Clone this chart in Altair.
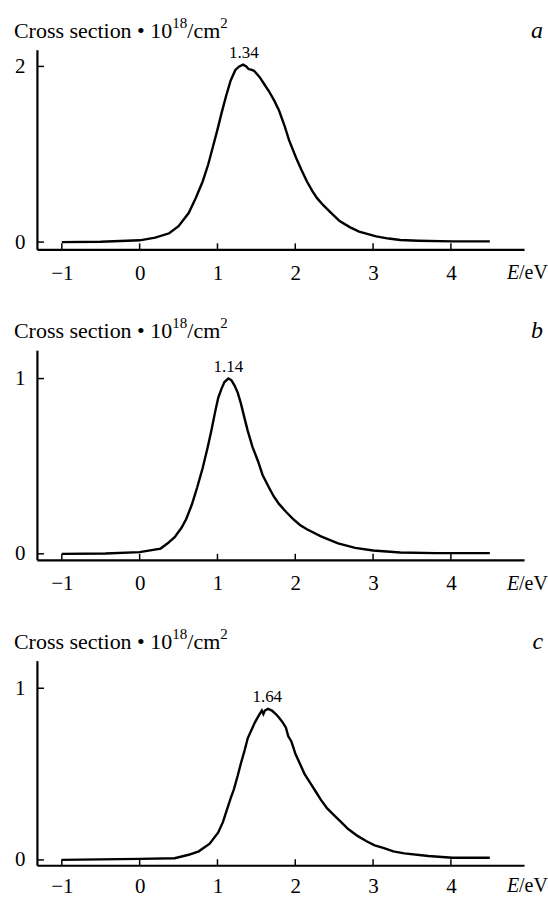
import altair as alt
import pandas as pd

FONT = "Liberation Serif"

# ---------------- data ----------------
X_TICKS = [-1, 0, 1, 2, 3, 4]

E_A = [-1.0, -0.5, 0.0, 0.2, 0.38, 0.5, 0.63, 0.72, 0.81, 0.88, 0.94, 1.0, 1.05, 1.11, 1.17,
       1.23, 1.28, 1.33, 1.37, 1.40, 1.44, 1.47, 1.54, 1.60, 1.66, 1.73, 1.79, 1.86, 1.92,
       2.01, 2.08, 2.15, 2.22, 2.28, 2.36, 2.44, 2.57, 2.70, 2.82, 3.04, 3.20, 3.35, 3.58,
       4.02, 4.5]
S_A = [0.0, 0.003, 0.02, 0.05, 0.10, 0.18, 0.33, 0.50, 0.69, 0.88, 1.08, 1.28, 1.46, 1.66, 1.84,
       1.96, 2.0, 2.02, 2.0, 1.97, 1.96, 1.95, 1.88, 1.80, 1.72, 1.61, 1.50, 1.33, 1.16,
       0.96, 0.82, 0.69, 0.58, 0.50, 0.42, 0.35, 0.24, 0.17, 0.12, 0.065, 0.04, 0.023, 0.015,
       0.008, 0.008]

E_B = [-1.0, -0.44, 0.0, 0.27, 0.36, 0.45, 0.54, 0.60, 0.67, 0.74, 0.81, 0.87, 0.92, 0.97,
       1.01, 1.05, 1.09, 1.14, 1.18, 1.22, 1.26, 1.30, 1.35, 1.39, 1.45, 1.52, 1.58, 1.66,
       1.72, 1.79, 1.88, 1.97, 2.06, 2.15, 2.33, 2.55, 2.77, 3.0, 3.35, 3.8, 4.5]
S_B = [0.0, 0.002, 0.01, 0.03, 0.06, 0.095, 0.15, 0.20, 0.28, 0.38, 0.49, 0.60, 0.70, 0.81,
       0.89, 0.94, 0.98, 1.0, 0.99, 0.96, 0.92, 0.86, 0.77, 0.70, 0.61, 0.53, 0.45, 0.38,
       0.33, 0.285, 0.24, 0.20, 0.165, 0.14, 0.10, 0.06, 0.034, 0.019, 0.008, 0.004, 0.004]

E_C = [-1.0, 0.0, 0.45, 0.63, 0.76, 0.90, 1.01, 1.07, 1.12, 1.17, 1.21, 1.26, 1.30, 1.35,
       1.39, 1.44, 1.48, 1.53, 1.57, 1.59, 1.61, 1.65, 1.70, 1.75, 1.79, 1.84, 1.88, 1.91,
       1.95, 2.0, 2.06, 2.12, 2.19, 2.26, 2.33, 2.41, 2.50, 2.59, 2.68, 2.80, 2.91, 3.02,
       3.13, 3.26, 3.40, 3.71, 4.02, 4.5]
S_C = [0.0, 0.006, 0.01, 0.03, 0.05, 0.095, 0.16, 0.22, 0.29, 0.36, 0.41, 0.49, 0.56, 0.64,
       0.71, 0.76, 0.80, 0.84, 0.87, 0.85, 0.87, 0.88, 0.87, 0.85, 0.83, 0.80, 0.77, 0.72,
       0.69, 0.62, 0.56, 0.50, 0.45, 0.40, 0.35, 0.30, 0.26, 0.22, 0.18, 0.14, 0.11, 0.085,
       0.07, 0.05, 0.038, 0.023, 0.013, 0.013]

PEAK_E = [1.34, 1.14, 1.64]
PEAK_S = [2.02, 1.0, 0.88]
PEAK_LABELS = ["1.34", "1.14", "1.64"]
Y_TICKS = [[0, 2], [0, 1], [0, 1]]
LETTERS = ["a", "b", "c"]
# y-axis title, split into normal and superscript parts
Y_TITLE_PARTS = ["Cross section \u2022 10", "18", "/cm", "2"]
X_TITLE_E = "E"
X_TITLE_UNIT = "/eV"

# ---------------- layout ----------------
W = 488
X_DOMAIN = [-1.32, 4.94]
HEIGHTS = [200, 210, 205]
Y_DOMAINS = [[-0.083, 2.19], [-0.034, 1.162], [-0.031, 1.161]]
LABEL_PAD = [30, 30, 27]
TFS = 22      # title font size
SFS = 15      # superscript font size
# em widths of the title pieces in Liberation Serif (Times metrics)
EM_T1 = 7.211
EM_T3 = 1.5

xscale = alt.Scale(domain=X_DOMAIN, nice=False, zero=False)


def panel(i, e, s, anchor=False):
    h = HEIGHTS[i]
    yscale = alt.Scale(domain=Y_DOMAINS[i], nice=False, zero=False)
    xa = alt.Axis(values=X_TICKS, title=None, grid=False, ticks=False, tickSize=0,
                  labelPadding=LABEL_PAD[i], labelBaseline="alphabetic", labelFlush=False,
                  labelOverlap=False, format="d")
    ya = alt.Axis(values=Y_TICKS[i], title=None, grid=False, ticks=False, tickSize=0,
                  labelPadding=12, labelFlush=False, labelOverlap=False, format="d")
    df = pd.DataFrame({"E": e, "s": s})

    line = alt.Chart(df).mark_line(color="black", strokeWidth=2.4).encode(
        x=alt.X("E:Q", scale=xscale, axis=xa),
        y=alt.Y("s:Q", scale=yscale, axis=ya),
    )

    xt = alt.Chart(pd.DataFrame({"E": X_TICKS})).mark_rule(color="black", strokeWidth=1.5).encode(
        x=alt.X("E:Q", scale=xscale, axis=xa),
        y=alt.value(h),
        y2=alt.value(h - 6),
    )
    yt = alt.Chart(pd.DataFrame({"s": Y_TICKS[i]})).mark_rule(color="black", strokeWidth=1.5).encode(
        y=alt.Y("s:Q", scale=yscale, axis=ya),
        x=alt.value(0),
        x2=alt.value(7),
    )

    peak = alt.Chart(pd.DataFrame({"E": [PEAK_E[i]], "s": [PEAK_S[i]], "lab": [PEAK_LABELS[i]]})).mark_text(
        font=FONT, fontSize=17, color="black", baseline="alphabetic", align="center", dy=-7
    ).encode(
        x=alt.X("E:Q", scale=xscale, axis=xa),
        y=alt.Y("s:Q", scale=yscale, axis=ya),
        text="lab:N",
    )

    x0 = -23
    ybase = -12
    xs = [x0, x0 + EM_T1 * TFS, x0 + EM_T1 * TFS + 1.0 * SFS, x0 + EM_T1 * TFS + 1.0 * SFS + EM_T3 * TFS]
    sizes = [TFS, SFS, TFS, SFS]
    dys = [0, -10, 0, -10]
    title_layers = []
    for k, part in enumerate(Y_TITLE_PARTS):
        title_layers.append(
            alt.Chart(pd.DataFrame({"t": [part]})).mark_text(
                font=FONT, fontSize=sizes[k], color="black", align="left", baseline="alphabetic"
            ).encode(text="t:N", x=alt.value(xs[k]), y=alt.value(ybase + dys[k]))
        )

    letter = alt.Chart(pd.DataFrame({"t": [LETTERS[i]]})).mark_text(
        font=FONT, fontSize=24, fontStyle="italic", color="black", align="right", baseline="alphabetic"
    ).encode(text="t:N", x=alt.value(507), y=alt.value(-12))

    xe = alt.Chart(pd.DataFrame({"t": [X_TITLE_E]})).mark_text(
        font=FONT, fontSize=20, fontStyle="italic", color="black", align="left", baseline="alphabetic"
    ).encode(text="t:N", x=alt.value(471), y=alt.value(h + LABEL_PAD[i]))
    xu = alt.Chart(pd.DataFrame({"t": [X_TITLE_UNIT]})).mark_text(
        font=FONT, fontSize=20, color="black", align="left", baseline="alphabetic"
    ).encode(text="t:N", x=alt.value(483), y=alt.value(h + LABEL_PAD[i]))

    layers = [line, xt, yt, peak] + title_layers + [letter, xe, xu]
    if anchor:
        anc = alt.Chart(pd.DataFrame({"k": [0]})).mark_rect(opacity=0).encode(
            x=alt.value(-37), x2=alt.value(-36), y=alt.value(-48.3), y2=alt.value(-47.3)
        )
        layers.append(anc)
    return alt.layer(*layers).properties(width=W, height=h)


chart = alt.vconcat(
    panel(0, E_A, S_A, anchor=True),
    panel(1, E_B, S_B),
    panel(2, E_C, S_C),
    spacing=101,
    bounds="flush",
).properties(padding=0).configure_view(stroke=None).configure_axis(
    domainColor="black", domainWidth=2.2, labelFont=FONT, labelFontSize=21, labelColor="black"
)

chart.save("out.html", embed_options={"renderer": "svg", "actions": False})
